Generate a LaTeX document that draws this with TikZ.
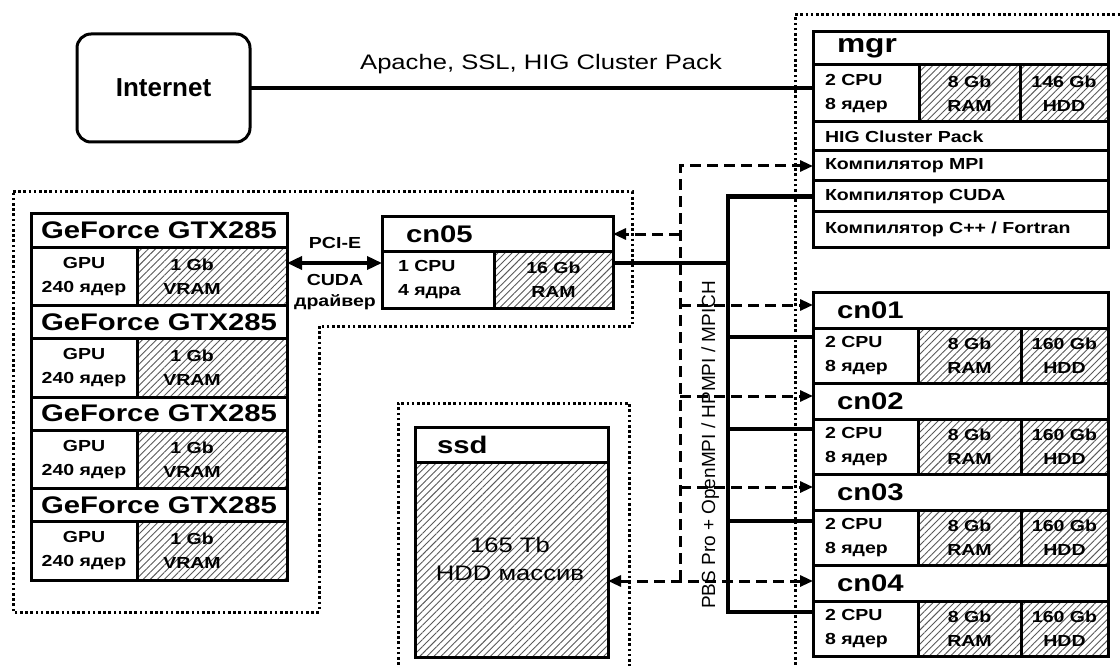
\documentclass[tikz,border=0pt]{standalone}
\usepackage{fontspec}
\setmainfont{Liberation Sans}
\newfontfamily\wf[FakeStretch=1.22]{Liberation Sans}
\usetikzlibrary{patterns.meta,arrows.meta,calc}
\tikzset{
  every node/.style={inner sep=0pt, outer sep=0pt},
  box/.style={draw, line width=3pt, anchor=north west, inner sep=0pt},
  hatchbox/.style={box, pattern={Lines[angle=45,distance=5pt,line width=0.9pt]}, pattern color=black!65},
  head/.style={font=\wf\bfseries\fontsize{24}{26}\selectfont, anchor=west},
  small/.style={font=\wf\bfseries\fontsize{16}{24}\selectfont, align=center},
  lsmall/.style={font=\wf\bfseries\fontsize{16}{24}\selectfont, align=left, anchor=west},
  dashline/.style={line width=3pt, dash pattern=on 11pt off 6pt},
  tip/.style={-{Triangle[length=13pt,width=11pt]}},
  dtip/.style={{Triangle[length=13pt,width=11pt]}-{Triangle[length=13pt,width=11pt]}},
  bus/.style={line width=4.5pt},
  dots/.style={line width=3pt, dash pattern=on 2.6pt off 2.6pt},
}
\begin{document}
\begin{tikzpicture}[x=1pt,y=-1pt]
\useasboundingbox (0,0) rectangle (1120,666);

% dotted frames
\draw[dots] (13,192) -- (632,192) -- (632,326) -- (319,326) -- (319,612) -- (13,612) -- cycle;
\draw[dots] (398,670) -- (398,403) -- (629,403) -- (629,670);
\draw[dots] (795,670) -- (795,15) -- (1125,15);

% Internet
\node[draw, line width=3pt, rounded corners=14pt, minimum width=173pt, minimum height=108pt,
      font=\bfseries\fontsize{26}{28}\selectfont] (inet) at (163.5,88) {Internet};

% mgr
\node[box, minimum width=295pt, minimum height=33pt] (mgr-h) at (813,32) {};
\node[head, font=\wf\bfseries\fontsize{26}{28}\selectfont] (mgr-t) at ([xshift=24pt]mgr-h.west) {mgr};
\node[box, minimum width=106pt, minimum height=57pt] (mgr-c) at (813,65) {};
\node[lsmall] (mgr-ct) at ([xshift=12pt]mgr-c.west) {2 CPU\\8 ядер};
\node[hatchbox, minimum width=101pt, minimum height=57pt, small] (mgr-r) at (919,65) {8 Gb\\RAM};
\node[hatchbox, minimum width=88pt, minimum height=57pt, small] (mgr-d) at (1020,65) {146 Gb\\HDD};
\node[box, minimum width=295pt, minimum height=29pt] (mgr-hig) at (813,122) {};
\node[lsmall] (mgr-higt) at ([xshift=12pt]mgr-hig.west) {HIG Cluster Pack};
\node[box, minimum width=295pt, minimum height=30pt] (mgr-mpi) at (813,151) {};
\node[lsmall] (mgr-mpit) at ([xshift=12pt]mgr-mpi.west) {Компилятор MPI};
\node[box, minimum width=295pt, minimum height=31pt] (mgr-cuda) at (813,181) {};
\node[lsmall] (mgr-cudat) at ([xshift=12pt]mgr-cuda.west) {Компилятор CUDA};
\node[box, minimum width=295pt, minimum height=35pt] (mgr-cpp) at (813,212) {};
\node[lsmall] (mgr-cppt) at ([xshift=12pt]mgr-cpp.west) {Компилятор C++ / Fortran};

% compute nodes
\foreach \n/\y in {cn01/292,cn02/383,cn03/474,cn04/565}{
  \node[box, minimum width=295pt, minimum height=36pt] (\n-h) at (813,\y) {};
  \node[head] (\n-t) at ([xshift=24pt]\n-h.west) {\n};
  \node[box, minimum width=105pt, minimum height=55pt] (\n-c) at (813,\y+36) {};
  \node[lsmall] (\n-ct) at ([xshift=12pt]\n-c.west) {2 CPU\\8 ядер};
  \node[hatchbox, minimum width=103pt, minimum height=55pt, small] (\n-r) at (918,\y+36) {8 Gb\\RAM};
  \node[hatchbox, minimum width=87pt, minimum height=55pt, small] (\n-d) at (1021,\y+36) {160 Gb\\HDD};
}

% GPUs
\foreach \i/\y in {1/214,2/305.5,3/397,4/488.5}{
  \node[box, minimum width=256pt, minimum height=33pt, font=\wf\bfseries\fontsize{24}{26}\selectfont] (g\i-h) at (31,\y) {GeForce GTX285};
  \node[box, minimum width=106pt, minimum height=58.5pt, small] (g\i-c) at (31,\y+33) {GPU\\240 ядер};
  \node[hatchbox, minimum width=150pt, minimum height=58.5pt] (g\i-v) at (137,\y+33) {};
  \node[small] (g\i-vt) at ([xshift=-20pt]g\i-v.center) {1 Gb\\VRAM};
}

% cn05
\node[box, minimum width=231pt, minimum height=34pt] (cn05-h) at (382,217) {};
\node[head] (cn05-t) at ([xshift=24pt]cn05-h.west) {cn05};
\node[box, minimum width=112pt, minimum height=57pt] (cn05-c) at (382,251) {};
\node[lsmall] (cn05-ct) at ([xshift=16pt]cn05-c.west) {1 CPU\\4 ядра};
\node[hatchbox, minimum width=119pt, minimum height=57pt, small] (cn05-r) at (494,251) {16 Gb\\RAM};

% ssd
\node[box, minimum width=193pt, minimum height=35pt] (ssd-h) at (415,427) {};
\node[head] (ssd-t) at ([xshift=22pt]ssd-h.west) {ssd};
\node[hatchbox, minimum width=193pt, minimum height=195pt] (ssd-b) at (415,462) {};
\node[font=\wf\fontsize{21}{28}\selectfont, align=center] (ssd-bt) at (510,559) {165 Tb\\HDD массив};

% vertical label
\node[rotate=90, anchor=base, font=\fontsize{19}{22}\selectfont] (pbs) at (715,445) {PBS Pro + OpenMPI / HPMPI / MPICH};

% Internet link
\draw[bus] (inet.east) -- (inet.east -| mgr-c.west);
\node[font=\wf\fontsize{21}{24}\selectfont] (apache) at (541,64) {Apache, SSL, HIG Cluster Pack};

% dashed (PBS/MPI) bus
\coordinate (a1) at ([yshift=5pt]cn01-h.west);
\coordinate (a2) at ([yshift=5pt]cn02-h.west);
\coordinate (a3) at ([yshift=5pt]cn03-h.west);
\coordinate (a4) at ([yshift=2pt]cn04-h.west);
\coordinate (db) at (680,0);
\draw[dashline, tip] (db |- a4) |- (mgr-mpi.west);
\draw[dashline, tip] (db |- cn05-h.east) -- (cn05-h.east);
\foreach \k in {1,2,3} \draw[dashline, tip] (db |- a\k) -- (a\k);
\draw[dashline, dtip] (ssd-b.east |- a4) -- (a4);

% solid bus
\coordinate (sb) at (728,0);
\coordinate (s1) at ([yshift=-9pt]cn01-c.north west);
\coordinate (s2) at ([yshift=-10pt]cn02-c.north west);
\coordinate (s3) at ([yshift=-11pt]cn03-c.north west);
\coordinate (s4) at ([yshift=-11pt]cn04-c.north west);
\coordinate (s5) at ([yshift=-12pt]cn05-r.north east);
\draw[bus] (mgr-cuda.west) -| (sb |- s4) -- (s4);
\foreach \k in {1,2,3} \draw[bus] (sb |- s\k) -- (s\k);
\draw[bus] (s5) -- (sb |- s5);

% PCI-E link
\coordinate (p5) at ([yshift=-12pt]cn05-c.north west);
\draw[line width=3.5pt, {Triangle[length=15pt,width=13pt]}-{Triangle[length=15pt,width=13pt]}] (g1-v.east |- p5) -- (p5);
\node[small] (pcie) at (335,243) {PCI-E};
\node[font=\wf\bfseries\fontsize{16}{21}\selectfont, align=center] (cudadrv) at (335,292) {CUDA\\драйвер};
\end{tikzpicture}
\end{document}
